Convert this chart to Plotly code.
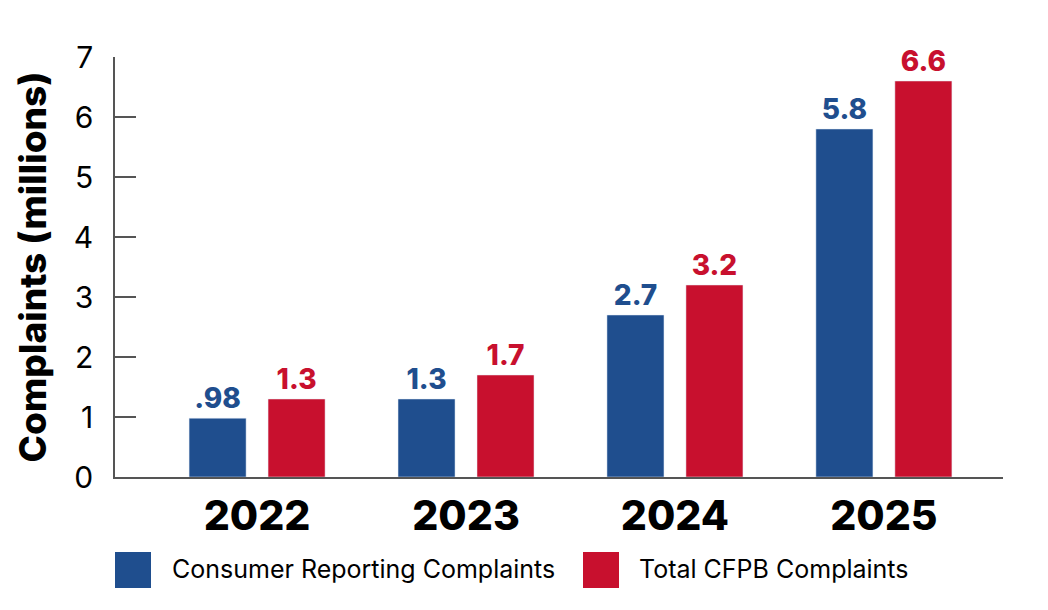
import plotly.graph_objects as go

years = ["2022", "2023", "2024", "2025"]
consumer_reporting = [0.98, 1.3, 2.7, 5.8]
total_cfpb = [1.3, 1.7, 3.2, 6.6]
consumer_labels = [".98", "1.3", "2.7", "5.8"]
total_labels = ["1.3", "1.7", "3.2", "6.6"]
series_names = ["Consumer Reporting Complaints", "Total CFPB Complaints"]

BLUE = "#1F4E8E"
RED = "#C8102E"
FONT = "Inter, Lato, sans-serif"

fig = go.Figure()
fig.add_trace(go.Bar(
    x=years, y=consumer_reporting, name=series_names[0], marker_color=BLUE,
    text=consumer_labels, textposition="outside", cliponaxis=False,
    textfont=dict(family=FONT, size=28, color=BLUE, weight=800),
))
fig.add_trace(go.Bar(
    x=years, y=total_cfpb, name=series_names[1], marker_color=RED,
    text=total_labels, textposition="outside", cliponaxis=False,
    textfont=dict(family=FONT, size=28, color=RED, weight=800),
))

fig.update_layout(
    width=1048, height=610,
    margin=dict(l=115, r=45, t=57, b=133),
    paper_bgcolor="white", plot_bgcolor="white",
    barmode="group", bargap=0.244, bargroupgap=0.278,
    showlegend=False,
    font=dict(family=FONT, color="black"),
    xaxis=dict(
        range=[-0.68, 3.57], showline=True, linecolor="#555", linewidth=1.5,
        ticks="", showgrid=False, ticklabelstandoff=2,
        tickfont=dict(family=FONT, size=41, color="black", weight=800),
    ),
    yaxis=dict(
        range=[0, 7], dtick=1, showline=True, linecolor="#555", linewidth=1.5,
        ticks="inside", ticklen=21, tickcolor="#555", tickwidth=1.5,
        showgrid=False, zeroline=False, ticklabelstandoff=14,
        tickfont=dict(family=FONT, size=30, color="black"),
        title=dict(text="Complaints (millions)", standoff=16,
                   font=dict(family=FONT, size=37, color="black", weight=800)),
    ),
)

# custom legend with square swatches
legend_items = [(0, BLUE, 115, 170), (1, RED, 583, 637)]
for idx, color, sx, tx in legend_items:
    fig.add_shape(type="rect", xref="paper", yref="paper",
                  x0=(sx - 115) / 888, x1=(sx + 36 - 115) / 888,
                  y0=(477 - 588) / 420, y1=(477 - 552) / 420,
                  fillcolor=color, line=dict(width=0))
    fig.add_annotation(xref="paper", yref="paper",
                       x=(tx - 115) / 888, y=(477 - 569) / 420,
                       xanchor="left", yanchor="middle", showarrow=False,
                       text=series_names[idx],
                       font=dict(family=FONT, size=25, color="black"))

fig.write_html("out.html")
